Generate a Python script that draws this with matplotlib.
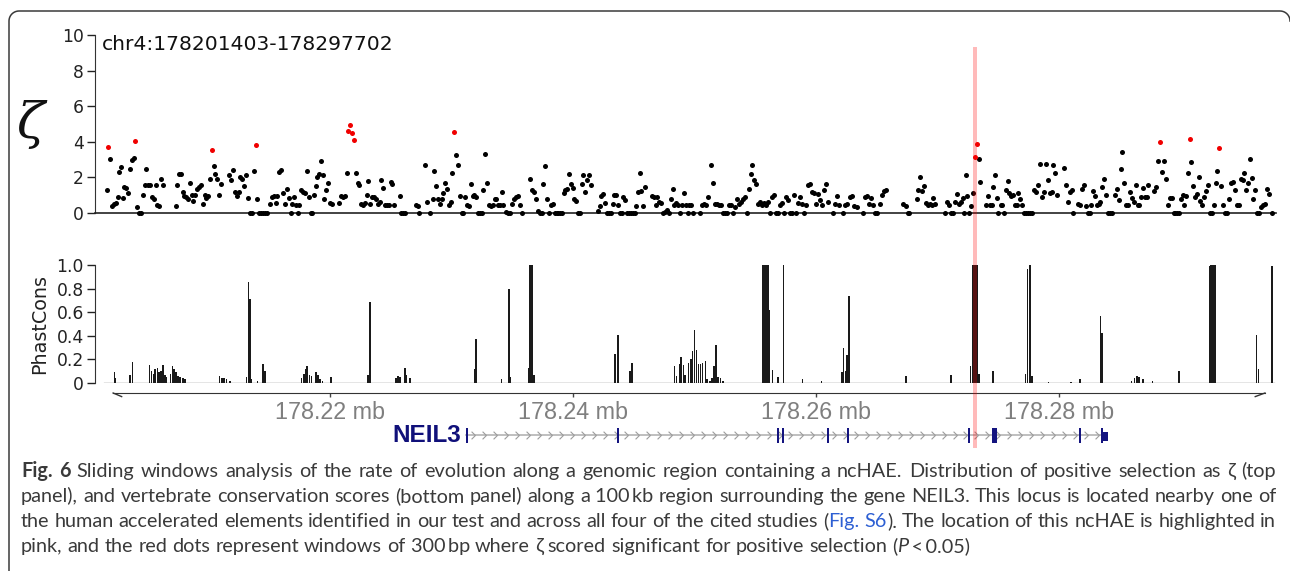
import numpy as np
import matplotlib
matplotlib.use('Agg')
import matplotlib.pyplot as plt
from matplotlib.patches import Rectangle
from matplotlib.path import Path
from matplotlib.lines import Line2D
from matplotlib.transforms import blended_transform_factory

W, H = 1290, 571

# positions are kb from chr4:178,200,000
region_start = 1.403
region_end = 97.702
region_label = 'chr4:178201403-178297702'

# zeta per sliding window (black dots)
zeta_pos = [
    1.62, 1.92, 2.08, 2.25, 2.39, 2.53, 2.66, 2.80, 2.94, 3.07,
    3.21, 3.37, 3.54, 3.70, 3.84, 4.12, 4.30, 4.44, 4.58, 4.75,
    4.88, 5.04, 5.21, 5.35, 5.49, 5.65, 5.79, 5.95, 6.09, 6.25,
    7.30, 7.43, 7.57, 7.71, 7.88, 8.01, 8.17, 8.31, 8.48, 8.62,
    8.75, 8.91, 9.08, 9.22, 9.38, 9.55, 9.69, 9.82, 9.98, 10.12,
    10.43, 10.56, 10.72, 10.86, 11.03, 11.71, 11.88, 12.04, 12.18, 12.32,
    12.48, 12.62, 12.78, 12.95, 13.09, 13.25, 13.41, 13.55, 13.72, 14.02,
    14.18, 14.34, 14.51, 14.67, 14.84, 15.06, 15.23, 15.37, 15.53, 15.66,
    15.83, 15.97, 16.13, 16.30, 16.44, 16.60, 16.76, 16.90, 17.04, 17.20,
    17.34, 17.47, 17.64, 17.80, 17.94, 18.08, 18.25, 18.41, 18.54, 18.68,
    18.82, 18.95, 19.09, 19.26, 19.40, 19.53, 19.69, 19.86, 20.00, 20.16,
    20.74, 20.90, 21.07, 21.23, 21.37, 22.14, 22.28, 22.41, 22.55, 22.71,
    22.85, 23.02, 23.15, 23.32, 23.48, 23.62, 23.78, 23.95, 24.09, 24.22,
    24.39, 24.53, 24.69, 24.83, 24.99, 25.13, 25.29, 25.74, 25.87, 26.03,
    26.20, 27.05, 27.22, 27.35, 27.84, 27.98, 28.23, 28.45, 28.56, 28.72,
    28.89, 29.05, 29.19, 29.32, 29.46, 29.63, 29.77, 29.93, 30.06, 30.37,
    30.53, 30.70, 30.86, 30.97, 31.13, 31.30, 31.46, 31.58, 31.74, 31.87,
    32.01, 32.20, 32.34, 32.48, 32.62, 32.78, 32.94, 33.08, 33.25, 33.39,
    33.55, 33.69, 33.85, 33.99, 34.13, 34.26, 34.48, 34.65, 34.81, 34.98,
    35.14, 35.31, 35.45, 35.61, 35.78, 36.48, 36.65, 36.81, 36.95, 37.12,
    37.28, 37.42, 37.55, 37.72, 37.86, 38.02, 38.16, 38.33, 38.49, 38.66,
    38.79, 38.95, 39.12, 39.23, 39.36, 39.53, 39.67, 39.81, 39.97, 40.10,
    40.27, 40.43, 40.57, 40.71, 40.85, 41.01, 41.15, 41.31, 41.48, 42.03,
    42.20, 42.33, 42.47, 42.63, 42.80, 42.94, 43.10, 43.26, 43.40, 43.54,
    43.70, 43.87, 44.01, 44.14, 44.30, 44.44, 44.61, 44.75, 44.91, 45.08,
    45.21, 45.37, 45.49, 45.62, 45.78, 45.95, 46.47, 46.64, 46.80, 46.94,
    47.10, 47.24, 47.40, 47.57, 47.71, 47.87, 48.04, 48.20, 48.33, 48.50,
    48.64, 48.80, 48.94, 49.11, 49.27, 49.44, 49.57, 49.73, 49.90, 50.45,
    50.61, 50.78, 50.94, 51.13, 51.33, 51.50, 51.66, 51.82, 51.99, 52.15,
    52.32, 52.48, 52.65, 52.81, 52.98, 53.14, 53.31, 53.47, 53.64, 53.80,
    53.96, 54.13, 54.29, 54.48, 54.62, 54.75, 54.92, 55.08, 55.25, 55.41,
    55.58, 55.74, 55.91, 56.07, 56.21, 56.38, 56.54, 56.70, 56.87, 57.03,
    57.20, 57.36, 57.53, 57.69, 57.86, 58.02, 58.19, 58.35, 58.52, 58.68,
    58.84, 59.01, 59.17, 59.34, 59.50, 59.67, 59.83, 60.00, 60.16, 60.33,
    60.49, 60.66, 60.82, 60.98, 61.42, 61.59, 61.75, 61.91, 62.19, 62.36,
    62.52, 62.79, 62.96, 63.12, 63.35, 63.84, 64.03, 64.22, 64.38, 64.55,
    64.71, 64.85, 65.04, 65.26, 65.40, 65.57, 65.73, 67.18, 67.38, 67.54,
    67.68, 68.28, 68.42, 68.58, 68.72, 68.89, 69.05, 69.21, 69.38, 69.54,
    69.65, 69.82, 70.59, 70.75, 70.92, 71.08, 71.25, 71.41, 71.58, 71.74,
    71.91, 72.07, 72.18, 72.32, 72.45, 72.61, 72.78, 72.94, 73.39, 73.52,
    73.96, 74.13, 74.32, 74.46, 74.59, 74.73, 74.87, 75.00, 75.20, 75.33,
    75.49, 75.63, 75.77, 75.91, 76.05, 76.21, 76.35, 76.51, 76.65, 76.79,
    76.95, 77.12, 77.28, 77.44, 77.61, 77.77, 77.94, 78.10, 78.27, 78.43,
    78.60, 78.76, 78.93, 79.09, 79.25, 79.42, 79.53, 79.69, 79.86, 80.41,
    80.57, 80.74, 80.88, 81.04, 81.17, 81.58, 81.75, 81.91, 82.05, 82.22,
    82.38, 82.52, 82.65, 82.82, 82.98, 83.12, 83.26, 83.39, 83.56, 83.72,
    83.86, 84.03, 84.19, 84.36, 84.60, 84.74, 84.91, 85.07, 85.20, 85.37,
    85.53, 85.70, 85.84, 86.00, 86.14, 86.31, 86.47, 86.60, 86.74, 86.88,
    87.05, 87.21, 87.35, 87.84, 88.00, 88.17, 88.50, 88.64, 88.80, 88.97,
    89.13, 89.30, 89.44, 89.57, 89.73, 89.87, 90.01, 90.18, 90.31, 90.47,
    90.61, 90.88, 91.05, 91.19, 91.35, 91.49, 91.63, 91.79, 91.93, 92.09,
    92.26, 92.40, 92.56, 92.73, 92.89, 93.02, 93.30, 93.47, 93.63, 93.80,
    93.96, 94.13, 94.29, 94.46, 94.62, 94.78, 94.95, 95.11, 95.25, 95.39,
    95.55, 95.69, 95.85, 95.99, 96.15, 96.32, 96.48, 96.65, 96.81, 96.97,
    97.14, 97.30, 97.53,
]
zeta_val = [
    1.28, 3.06, 0.40, 0.50, 0.56, 0.90, 2.30, 2.60, 0.84, 1.46,
    1.40, 1.10, 2.50, 3.00, 3.10, 0.34, 0, 0, 1.03, 1.60,
    2.45, 1.60, 1.55, 0.90, 0.77, 1.60, 0.47, 0.38, 1.93, 1.55,
    0.41, 1.60, 2.17, 2.17, 1.20, 0.93, 0.90, 0.80, 1.67, 1.00,
    0.66, 1.03, 1.37, 1.46, 1.55, 0.49, 1.00, 0.84, 0.97, 1.90,
    2.63, 2.17, 1.93, 1.03, 1.65, 2.12, 1.84, 2.40, 1.18, 0.94,
    1.18, 2.03, 1.93, 1.50, 2.12, 0.84, 0, 0, 2.35, 0.80,
    0, 0, 0, 0, 0, 0.53, 0.90, 0.96, 0.56, 0.96,
    2.30, 2.40, 1.10, 0.53, 1.37, 0.84, 0, 0.53, 0.90, 0.47,
    0, 0.47, 1.30, 1.20, 1.10, 2.35, 0.90, 0, 0, 1.00,
    1.50, 2.03, 2.17, 2.93, 2.15, 0.80, 1.28, 1.69, 0.58, 0.49,
    0.56, 0.96, 0.90, 0.96, 2.25, 2.25, 1.69, 1.60, 0.53, 0.47,
    0.56, 1.03, 1.78, 0.53, 0.90, 0.90, 0.80, 0.53, 0.62, 1.84,
    1.40, 0.43, 0.43, 0.43, 1.74, 1.65, 0.43, 0.96, 0, 0,
    0, 0.47, 0.40, 0, 2.72, 0.62, 0, 0.77, 2.36, 1.50,
    0.77, 0.53, 0.77, 1.14, 1.70, 1.37, 0.47, 0.62, 2.25, 3.25,
    2.68, 0.94, 0, 0, 0.90, 0.47, 0.41, 1.61, 0.96, 1.00,
    0.90, 0, 0, 0, 1.28, 3.34, 1.70, 0.47, 0.40, 0.47,
    0.80, 0.80, 0.47, 0.47, 1.18, 0.47, 0.06, 0, 0, 0.53,
    0.77, 0.90, 0.96, 0.43, 0, 1.91, 1.28, 1.18, 0.77, 0.09,
    0, 0, 1.65, 2.63, 0.80, 0, 0.43, 0.53, 0, 0,
    0, 0, 0, 1.10, 1.28, 1.37, 2.21, 1.61, 1.40, 0.80,
    0.66, 0, 0, 1.61, 2.12, 1.18, 1.84, 2.12, 1.60, 0.09,
    0.38, 0.96, 1.05, 0.56, 0, 0, 0, 0.49, 1.00, 1.00,
    0.43, 0, 0, 0.90, 0.71, 0, 0, 0, 0, 0,
    0.40, 1.18, 2.27, 1.22, 0.38, 1.46, 0.94, 0.90, 0.43, 0.90,
    0.62, 0.56, 0, 0.06, 0.15, 0, 0.77, 1.33, 0.47, 0.56,
    0.47, 0, 0.47, 1.10, 0.47, 0, 0.47, 0.47, 0, 0,
    0.43, 0.53, 0.43, 0.90, 2.72, 1.70, 0.53, 0.53, 0.47, 0.47,
    0, 0, 0, 0.47, 0.43, 0, 0.34, 0.77, 0.53, 0.62,
    0.80, 0.90, 0, 1.37, 2.21, 2.68, 1.84, 1.61, 0.53, 0.62,
    0.47, 0.56, 0.43, 0.62, 0, 0.90, 1.00, 0, 0, 0.47,
    0.56, 0, 0.90, 0.71, 0, 0, 1.00, 0, 0.56, 0.90,
    0.53, 0, 0.43, 1.55, 1.61, 1.18, 1.13, 0.53, 1.05, 0.71,
    0.43, 1.28, 1.61, 0.62, 0, 0.53, 0.96, 0.47, 0, 0.47,
    0.53, 0.90, 0.96, 0.40, 0.34, 0, 0.90, 0.96, 0.53, 0.86,
    0.43, 0, 0, 0.53, 1.00, 1.24, 1.28, 0.53, 0.40, 0,
    0, 0.80, 1.31, 2.03, 1.22, 1.50, 0.56, 0.43, 0.53, 0.47,
    0.86, 0.53, 0, 0.62, 0.43, 0, 0, 0.62, 1.05, 0.53,
    0.62, 0.86, 0, 2.12, 0.94, 0, 0.38, 1.13, 3.02, 1.74,
    0.47, 0.96, 0.43, 0.43, 1.46, 2.12, 0.86, 0, 0.43, 0.43,
    0, 1.28, 1.80, 1.10, 0.96, 1.00, 0.47, 0.47, 1.10, 0.80,
    0.47, 0, 0, 0, 0, 0, 1.28, 1.18, 1.58, 2.74,
    0.90, 1.18, 2.78, 1.88, 1.10, 1.18, 2.72, 2.27, 1.00, 2.53,
    1.60, 0.62, 1.18, 1.28, 0, 0.53, 0.43, 1.37, 1.55, 0.38,
    0, 0, 0.43, 1.24, 0.94, 0.47, 0.53, 0.62, 1.46, 1.93,
    1.00, 0, 0, 0, 1.03, 1.37, 0.75, 2.50, 3.43, 1.70,
    0.47, 0.43, 1.18, 0.86, 0.62, 1.55, 0.43, 0.43, 0.90, 1.43,
    0.90, 0.90, 1.55, 1.24, 1.46, 2.90, 2.30, 2.90, 1.93, 0.43,
    0.86, 0.86, 0, 0, 0, 0, 0.80, 1.00, 0.43, 0.94,
    2.25, 2.87, 1.52, 0.90, 1.05, 2.03, 0.66, 0.43, 0.90, 1.24,
    1.55, 0, 0, 0.47, 1.70, 2.36, 1.52, 0.47, 0, 0,
    0.80, 1.70, 1.74, 1.28, 0.47, 0.43, 1.93, 1.84, 2.25, 1.31,
    1.70, 3.06, 1.99, 0.80, 1.28, 0, 0, 0.34, 0.43, 0.53,
    1.37, 1.05, 0,
]

# windows with significant positive selection (red dots)
sig_pos = [1.70, 3.98, 10.29, 13.88, 21.46, 21.64, 21.83, 21.97, 30.20,
           73.06, 73.22, 88.33, 90.75, 93.16]
sig_val = [3.70, 4.05, 3.53, 3.80, 4.60, 4.92, 4.47, 4.09, 4.54,
           3.13, 3.90, 4.00, 4.13, 3.64]

# PhastCons vertebrate conservation
phast_pos = [
    2.25, 2.35, 3.54, 3.73, 5.13, 5.32, 5.46, 5.62, 5.79, 5.95,
    6.11, 6.28, 6.42, 6.56, 6.89, 7.05, 7.16, 7.32, 7.51, 7.65,
    7.88, 8.07, 10.89, 11.09, 11.28, 11.50, 11.77, 13.14, 13.28, 13.44,
    13.55, 14.05, 14.51, 14.67, 17.67, 17.86, 18.02, 18.13, 18.30, 18.49,
    18.85, 18.99, 19.18, 19.40, 20.06, 23.15, 23.29, 25.43, 25.62, 25.76,
    26.17, 26.31, 26.58, 31.88, 32.01, 34.13, 34.73, 34.87, 36.35, 36.48,
    36.58, 36.68, 36.81, 43.48, 43.70, 44.71, 44.88, 48.34, 48.53, 48.75,
    48.91, 49.08, 49.24, 49.52, 49.69, 49.85, 50.01, 50.18, 50.34, 50.51,
    50.67, 50.89, 51.05, 51.27, 51.44, 51.60, 51.77, 51.93, 52.15, 52.37,
    55.66, 55.76, 55.86, 55.96, 56.07, 56.15, 56.43, 56.87, 57.31, 58.90,
    60.46, 62.14, 62.28, 62.44, 62.57, 62.74, 67.40, 71.13, 72.73, 72.89,
    73.01, 73.14, 73.27, 73.41, 74.59, 77.26, 77.42, 77.61, 77.77, 79.12,
    80.98, 81.72, 83.43, 83.56, 85.98, 86.22, 86.42, 86.60, 86.91, 87.71,
    89.87, 92.37, 92.49, 92.61, 92.74, 92.86, 96.27, 96.43, 97.53,
]
phast_val = [
    0.09, 0.04, 0.07, 0.18, 0.15, 0.10, 0.08, 0.12, 0.13, 0.09,
    0.10, 0.15, 0.07, 0.05, 0.08, 0.14, 0.12, 0.09, 0.06, 0.05,
    0.04, 0.03, 0.06, 0.04, 0.04, 0.03, 0.02, 0.05, 0.86, 0.71,
    0.03, 0.02, 0.16, 0.10, 0.04, 0.08, 0.12, 0.14, 0.07, 0.06,
    0.09, 0.07, 0.03, 0.02, 0.05, 0.07, 0.69, 0.04, 0.06, 0.05,
    0.13, 0.07, 0.04, 0.12, 0.37, 0.03, 0.80, 0.05, 0.13, 1.00,
    1.00, 1.00, 0.07, 0.25, 0.41, 0.10, 0.17, 0.14, 0.06, 0.16,
    0.22, 0.15, 0.07, 0.17, 0.20, 0.27, 0.45, 0.28, 0.16, 0.16,
    0.17, 0.19, 0.03, 0.02, 0.04, 0.14, 0.32, 0.05, 0.04, 0.02,
    1.00, 1.00, 1.00, 1.00, 1.00, 0.62, 0.11, 0.05, 1.00, 0.03,
    0.02, 0.09, 0.30, 0.10, 0.24, 0.74, 0.06, 0.07, 0.14, 1.00,
    1.00, 1.00, 1.00, 0.08, 0.10, 0.08, 0.97, 1.00, 0.06, 0.01,
    0.01, 0.03, 0.57, 0.42, 0.02, 0.04, 0.06, 0.05, 0.03, 0.02,
    0.10, 0.99, 1.00, 1.00, 1.00, 1.00, 0.41, 0.12, 0.99,
]

# ncHAE location (pink highlight)
hae_start, hae_end = 72.92, 73.25

# NEIL3 gene model
gene_name = 'NEIL3'
exon_start = [31.20, 43.63, 56.80, 57.21, 60.92, 62.56, 72.52, 74.46, 81.66, 83.43]
exon_end = [31.34, 43.77, 56.94, 57.35, 61.06, 62.70, 72.66, 74.87, 81.80, 83.60]
utr_start, utr_end = 83.60, 84.06

scale_ticks = [20, 40, 60, 80]
scale_labels = ['178.22 mb', '178.24 mb', '178.26 mb', '178.28 mb']

caption_lines = [
    [('Fig. 6', 'b'), (' Sliding windows analysis of the rate of evolution along a genomic region '
                       'containing a ncHAE. Distribution of positive selection as ζ (top', 'n')],
    [('panel), and vertebrate conservation scores (bottom panel) along a 100\u2009kb region '
      'surrounding the gene NEIL3. This locus is located nearby one of', 'n')],
    [('the human accelerated elements identified in our test and across all four of the cited '
      'studies (', 'n'), ('Fig. S6', 'l'), ('). The location of this ncHAE is highlighted in', 'n')],
    [('pink, and the red dots represent windows of 300\u2009bp where ζ scored significant for '
      'positive selection (', 'n'), ('P', 'i'), ('\u2009<\u20090.05)', 'n')],
]


def px_box(left, top, right, bottom):
    return [left / W, 1 - bottom / H, (right - left) / W, (bottom - top) / H]


XLIM = (0.66, 97.86)

fig = plt.figure(figsize=(W / 100, H / 100), dpi=100)
fig.patch.set_facecolor('white')

# top panel: zeta
ax_top = fig.add_axes(px_box(95, 35, 1276, 213))
ax_top.scatter(zeta_pos, zeta_val, s=13, color='black', linewidths=0, zorder=3, clip_on=False)
ax_top.scatter(sig_pos, sig_val, s=13, color='#f00000', linewidths=0, zorder=3, clip_on=False)
ax_top.set_xlim(*XLIM)
ax_top.set_ylim(0, 10)
ax_top.set_yticks(range(0, 11, 2))
ax_top.set_xticks([])
for s in ['top', 'right']:
    ax_top.spines[s].set_visible(False)
ax_top.spines['left'].set_color('#333333')
ax_top.spines['bottom'].set_color('#222222')
ax_top.spines['bottom'].set_linewidth(1.2)
ax_top.tick_params(axis='y', length=6, width=1, pad=2, labelsize=12.3, colors='#222222')

fig.text(102 / W, 1 - 44 / H, region_label, fontsize=14.6, ha='left', va='center', color='#111111')
fig.text(31 / W, 1 - 124 / H, 'ζ', fontsize=37, family='DejaVu Serif', style='italic',
         ha='center', va='center', color='#111111')

# bottom panel: PhastCons
ax_bot = fig.add_axes(px_box(95, 265, 1276, 383))
ax_bot.bar(phast_pos, phast_val, width=0.13, color='#1a1a1a', linewidth=0, align='center')
ax_bot.plot([region_start, region_end], [0, 0], color='#333333', lw=0.9)
ax_bot.set_xlim(*XLIM)
ax_bot.set_ylim(0, 1)
ax_bot.set_yticks([0, 0.2, 0.4, 0.6, 0.8, 1.0])
ax_bot.set_yticklabels(['0', '0.2', '0.4', '0.6', '0.8', '1.0'])
ax_bot.set_xticks([])
for s in ['top', 'right', 'bottom']:
    ax_bot.spines[s].set_visible(False)
ax_bot.spines['left'].set_color('#333333')
ax_bot.tick_params(axis='y', length=6, width=1, pad=2, labelsize=12.3, colors='#222222')
fig.text(40 / W, 1 - 324 / H, 'PhastCons', fontsize=13.8, rotation=90, ha='center', va='center',
         color='#222222')

# genomic scale
ax_scale = fig.add_axes(px_box(95, 387, 1276, 393))
ax_scale.set_xlim(*XLIM)
ax_scale.set_ylim(0, 1)
for s in ['top', 'right', 'left']:
    ax_scale.spines[s].set_visible(False)
scale_lo, scale_hi = region_start + 0.75, region_end - 0.75
ax_scale.spines['bottom'].set_bounds(scale_lo, scale_hi)
ax_scale.spines['bottom'].set_color('#333333')
ax_scale.set_yticks([])
ax_scale.set_xticks(scale_ticks)
ax_scale.set_xticklabels(scale_labels, fontfamily='Liberation Sans')
ax_scale.tick_params(axis='x', direction='out', length=3, width=1, pad=3,
                     labelsize=16.8, labelcolor='#7f7f7f', color='#444444')
ax_scale.plot([scale_lo, scale_lo + 0.7], [0, -0.6], color='#333333', lw=1, clip_on=False)
ax_scale.plot([scale_hi, scale_hi - 0.8], [0, -0.6], color='#333333', lw=1, clip_on=False)
ax_scale.patch.set_alpha(0)

# gene track
ax_gene = fig.add_axes(px_box(95, 424, 1276, 446))
ax_gene.set_xlim(*XLIM)
ax_gene.set_ylim(0, 1)
ax_gene.axis('off')
gene_start, gene_end = exon_start[0], utr_end
ax_gene.plot([gene_start, exon_end[-1]], [0.5, 0.5], color='#b4b4b4', lw=1.2, zorder=1)
chevron = Path([(-0.5, 1), (0.5, 0), (-0.5, -1)], [Path.MOVETO, Path.LINETO, Path.LINETO])
chev_x = np.arange(gene_start + 0.6, exon_start[-1] - 0.3, 0.9)
ax_gene.plot(chev_x, np.full(len(chev_x), 0.5), ls='none', marker=chevron, markersize=5.5,
             markerfacecolor='none', markeredgecolor='#9c9c9c', markeredgewidth=0.8, zorder=2)
gene_col = '#14147f'
for a, b in zip(exon_start, exon_end):
    ax_gene.add_patch(Rectangle((a, 0.14), b - a, 0.68, color=gene_col, lw=0, zorder=3))
ax_gene.add_patch(Rectangle((utr_start, 0.23), utr_end - utr_start, 0.42, color=gene_col, lw=0, zorder=3))
ax_gene.text(gene_start - 0.4, 0.48, gene_name, ha='right', va='center', fontsize=17.5,
             fontweight='bold', color='#10107a', family='Liberation Sans')

# pink highlight through all tracks
trans = blended_transform_factory(ax_top.transData, fig.transFigure)
fig.add_artist(Rectangle((hae_start, 1 - 448 / H), hae_end - hae_start, (448 - 47) / H,
                         transform=trans, facecolor='red', alpha=0.27, lw=0, zorder=5))

# rounded border
r = 10
t1 = np.linspace(np.pi, np.pi / 2, 12)
t2 = np.linspace(np.pi / 2, 0, 12)
bx = np.concatenate([[9], 19 + r * np.cos(t1), 1280 + r * np.cos(t2)])
by = np.concatenate([[571], 21 - r * np.sin(t1), 21 - r * np.sin(t2)])
fig.add_artist(Line2D(bx / W, 1 - by / H, transform=fig.transFigure, color='#3a3a3a', lw=1.1))

# caption
renderer = fig.canvas.get_renderer()
cap_base = dict(family=['Lato', 'DejaVu Sans'], fontsize=12, color='#3a3a3a')
cap_styles = {'n': {}, 'b': {'fontweight': 'bold'}, 'i': {'fontstyle': 'italic'},
              'l': {'color': '#2d5fd3'}}
cap_left, cap_right = 21, 1276


def text_width(s, kw):
    t = fig.text(0, 0, s, **kw)
    w = t.get_window_extent(renderer).width
    t.remove()
    return w


# size the caption so its last (unjustified) line ends where the reference's does
last_line = ''.join(s for s, _ in caption_lines[-1])
cap_base['fontsize'] = 12 * (967 - cap_left) / text_width(last_line, cap_base)
space_w = text_width('a a', cap_base) - text_width('aa', cap_base)


def caption_line(segs, y_px, justify):
    words = [[]]
    for text, key in segs:
        for i, piece in enumerate(text.split(' ')):
            if i > 0:
                words.append([])
            if piece:
                words[-1].append((piece, key))
    words = [w for w in words if w]
    items, total = [], 0
    for w in words:
        arts = []
        for piece, key in w:
            t = fig.text(0, 0, piece, ha='left', va='baseline', **{**cap_base, **cap_styles[key]})
            arts.append((t, t.get_window_extent(renderer).width))
        items.append(arts)
        total += sum(a[1] for a in arts)
    gap = (cap_right - cap_left - total) / (len(items) - 1) if justify else space_w
    x = cap_left
    for arts in items:
        for t, bw in arts:
            t.set_position((x / W, 1 - y_px / H))
            x += bw
        x += gap


for i, segs in enumerate(caption_lines):
    caption_line(segs, 477 + 25 * i, justify=(i < len(caption_lines) - 1))

fig.savefig('out.png', dpi=100)
